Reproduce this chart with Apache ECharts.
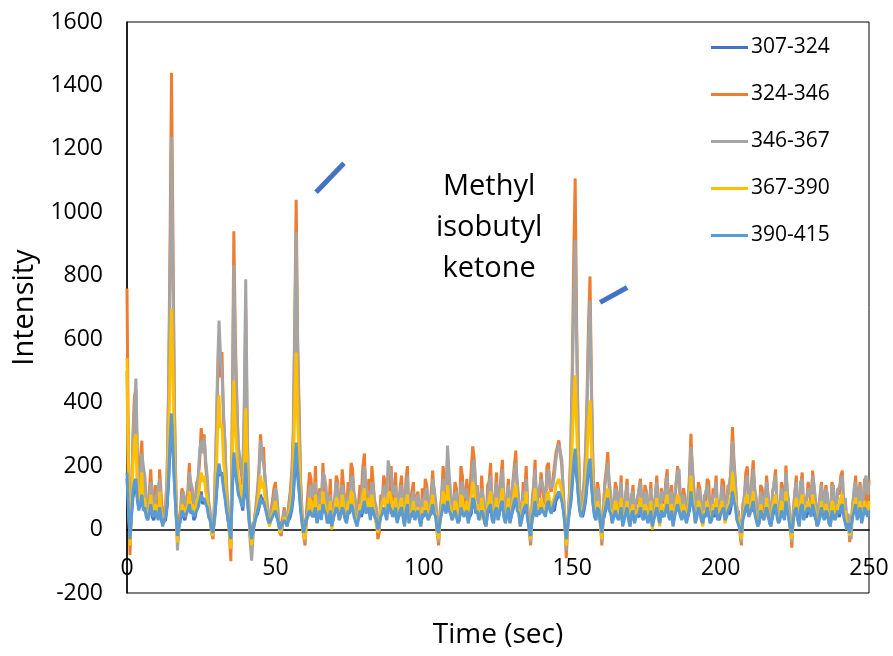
<!DOCTYPE html>
<html>
<head>
<meta charset="utf-8">
<title>Intensity vs time</title>
<script src="https://cdn.jsdelivr.net/npm/echarts@6/dist/echarts.min.js"></script>
<style>
    html, body { margin: 0; padding: 0; background: #fff; }
    #mychart { width: 893px; height: 656px; }
</style>
</head>
<body>
<div id="mychart"></div>
<script>
// wavelength bands (legend)
var bandNames = ['307-324', '324-346', '346-367', '367-390', '390-415'];
var bandColors = ['#4472C4', '#ED7D31', '#A5A5A5', '#FFC000', '#5B9BD5'];

// one sample every 0.5 s, 0..250 s (20 samples per row = 10 s)
var sampleStep = 0.5;
var band307 = [
    160, 70, -20, 50, 100, 130, 140, 100, 70, 90, 120, 70, 60, 50, 40, 60, 90, 40, 30, 50,
    60, 40, 80, 30, 20, 20, 30, 70, 150, 260, 340, 250, 150, 60, -10, 20, 40, 50, 50, 30,
    50, 70, 90, 60, 70, 30, 40, 70, 80, 100, 120, 80, 90, 90, 80, 50, 40, 10, 0, 30,
    90, 160, 190, 170, 180, 140, 110, 70, 30, 10, -20, 130, 220, 180, 160, 120, 110, 90, 60, 110,
    190, 100, 50, 10, -20, 10, 30, 40, 50, 70, 110, 90, 100, 80, 60, 40, 30, 50, 70, 60,
    50, 50, 30, 10, 10, 30, 40, 30, 20, 30, 40, 60, 100, 180, 250, 170, 120, 70, 30, 0,
    0, 40, 40, 50, 70, 50, 40, 60, 30, 50, 50, 40, 90, 70, 60, 30, 20, 50, 20, 30,
    60, 60, 60, 40, 40, 60, 50, 40, 30, 50, 60, 70, 70, 50, 50, 20, 20, 50, 40, 60,
    80, 60, 60, 60, 40, 60, 50, 50, 40, 10, 10, 50, 60, 60, 60, 40, 90, 80, 50, 50,
    60, 60, 30, 30, 50, 60, 50, 20, 50, 70, 30, 50, 40, 50, 40, 60, 50, 40, 20, 40,
    50, 50, 50, 40, 40, 50, 70, 60, 50, 10, 0, 40, 40, 70, 80, 60, 80, 70, 60, 40,
    40, 50, 50, 30, 40, 60, 60, 50, 60, 50, 30, 40, 50, 90, 80, 60, 70, 40, 40, 50,
    40, 30, 20, 50, 60, 70, 40, 30, 50, 60, 40, 40, 70, 80, 50, 30, 40, 60, 30, 30,
    60, 80, 90, 70, 60, 20, 40, 50, 50, 70, 40, 10, -10, 30, 50, 80, 50, 50, 50, 60,
    60, 60, 50, 70, 80, 70, 60, 60, 60, 90, 100, 110, 110, 100, 70, 30, -20, 20, 60, 80,
    140, 200, 235, 170, 120, 70, 50, 40, 60, 90, 140, 190, 210, 140, 90, 50, 40, 60, 50, 30,
    0, 30, 50, 70, 90, 70, 60, 30, 30, 50, 50, 40, 50, 60, 20, 40, 40, 60, 40, 20,
    40, 50, 30, 50, 50, 40, 60, 50, 40, 50, 50, 30, 50, 50, 20, 40, 40, 60, 50, 30,
    50, 40, 50, 50, 70, 50, 40, 50, 20, 50, 50, 70, 70, 50, 40, 50, 40, 30, 30, 60,
    110, 90, 70, 30, 50, 60, 50, 40, 30, 40, 40, 60, 60, 30, 40, 50, 40, 60, 40, 30,
    50, 50, 60, 40, 50, 50, 50, 70, 110, 100, 80, 40, 40, 10, 0, 40, 40, 60, 70, 50,
    50, 60, 80, 60, 60, 20, 30, 50, 50, 40, 40, 60, 40, 30, 20, 40, 60, 70, 50, 30,
    40, 50, 50, 40, 80, 70, 40, 10, 0, 40, 50, 60, 40, 20, 60, 70, 40, 40, 40, 60,
    50, 50, 70, 50, 50, 20, 30, 40, 60, 50, 40, 50, 50, 30, 20, 50, 50, 40, 40, 50,
    40, 60, 70, 50, 50, 10, 30, 0, 0, 50, 50, 70, 40, 40, 60, 30, 50, 60, 50, 50,
    50
];
var band324 = [
    760, 200, -80, 80, 300, 420, 440, 150, 100, 220, 280, 120, 150, 60, 40, 120, 190, 90, 60, 140,
    100, 40, 190, 110, 20, 60, 80, 150, 450, 900, 1440, 900, 380, 120, -40, 30, 60, 130, 110, 50,
    50, 120, 210, 90, 110, 60, 90, 150, 160, 220, 320, 260, 300, 200, 150, 60, 40, -10, -30, 80,
    250, 450, 620, 480, 560, 350, 280, 120, 60, -20, -100, 400, 940, 600, 420, 250, 250, 180, 140, 300,
    700, 300, 90, -20, -60, 0, 30, 80, 130, 200, 300, 220, 260, 150, 90, 40, 20, 60, 90, 130,
    150, 80, 30, -10, -20, 40, 70, 30, 20, 80, 120, 180, 300, 650, 1040, 600, 380, 150, 40, -20,
    -50, 60, 60, 180, 160, 70, 90, 200, 30, 100, 130, 60, 210, 120, 120, 40, 60, 160, 10, 80,
    90, 170, 150, 40, 70, 190, 130, 60, 40, 150, 100, 210, 190, 80, 80, 20, 20, 140, 120, 200,
    240, 90, 110, 160, 50, 200, 140, 70, 60, -30, -10, 110, 90, 170, 150, 50, 60, 120, 200, 90,
    100, 180, 40, 60, 130, 170, 70, 20, 160, 200, 30, 90, 90, 150, 50, 100, 120, 40, 20, 130,
    70, 160, 140, 50, 60, 120, 186, 100, 80, -10, -50, 60, 100, 200, 150, 90, 230, 130, 110, 40,
    60, 150, 130, 30, 40, 200, 170, 80, 90, 160, 30, 120, 120, 262, 220, 90, 140, 60, 50, 170,
    90, 30, 20, 140, 150, 210, 70, 30, 110, 180, 40, 100, 170, 220, 60, 30, 100, 160, 30, 90,
    150, 200, 249, 110, 90, 20, 40, 150, 120, 200, 70, 0, -50, 90, 140, 220, 60, 130, 100, 180,
    180, 90, 80, 200, 210, 130, 120, 160, 160, 240, 240, 281, 281, 200, 120, 30, -90, 20, 100, 250,
    500, 850, 1107, 650, 300, 120, 60, 100, 150, 250, 420, 650, 798, 450, 200, 80, 50, 150, 120, 20,
    -50, 60, 150, 190, 244, 120, 100, 30, 40, 150, 130, 60, 80, 170, 20, 60, 110, 160, 60, 10,
    100, 140, 30, 80, 90, 130, 160, 70, 50, 140, 120, 30, 70, 150, 10, 80, 100, 170, 60, 20,
    130, 100, 80, 150, 190, 60, 60, 140, 20, 90, 140, 200, 170, 60, 60, 130, 100, 30, 40, 170,
    302, 180, 120, 40, 60, 150, 130, 50, 20, 110, 90, 160, 150, 40, 60, 130, 110, 170, 40, 90,
    80, 160, 150, 40, 70, 140, 110, 200, 323, 220, 150, 50, 60, -10, -50, 80, 100, 180, 199, 60,
    80, 160, 218, 110, 90, 20, 40, 140, 130, 50, 60, 170, 100, 40, 20, 120, 140, 190, 80, 30,
    60, 150, 120, 60, 202, 110, 70, 10, -57, 60, 110, 170, 60, 20, 140, 180, 50, 100, 90, 150,
    120, 80, 186, 130, 80, 20, 30, 110, 150, 60, 60, 140, 100, 30, 20, 150, 130, 50, 70, 130,
    110, 170, 186, 60, 90, 10, 40, -40, -40, 80, 120, 170, 60, 110, 150, 40, 80, 160, 100, 60,
    158
];
var band346 = [
    500, 150, -40, 100, 260, 380, 476, 250, 120, 80, 240, 200, 170, 90, 60, 80, 150, 120, 50, 90,
    110, 130, 160, 60, 40, 50, 60, 180, 400, 800, 1238, 800, 350, 100, -66, 0, 40, 100, 120, 90,
    70, 90, 180, 150, 130, 80, 100, 120, 170, 250, 280, 240, 290, 220, 170, 90, 60, 0, -20, 100,
    280, 500, 659, 550, 500, 380, 260, 150, 80, 0, -60, 350, 833, 550, 380, 260, 230, 200, 160, 400,
    789, 350, 60, -40, -98, -20, 40, 70, 110, 180, 280, 240, 240, 170, 110, 60, 40, 50, 70, 100,
    130, 110, 50, 0, -10, 20, 60, 50, 40, 60, 100, 150, 260, 600, 937, 550, 340, 150, 50, 0,
    -40, 40, 70, 130, 140, 110, 100, 150, 40, 60, 120, 90, 180, 170, 140, 80, 70, 110, 20, 60,
    100, 150, 130, 70, 80, 140, 120, 90, 50, 100, 110, 160, 170, 120, 90, 40, 30, 80, 110, 150,
    200, 140, 120, 110, 60, 150, 130, 90, 70, 20, 0, 70, 100, 130, 140, 90, 218, 190, 180, 120,
    110, 140, 50, 80, 120, 140, 80, 40, 140, 170, 40, 70, 100, 120, 60, 90, 110, 70, 30, 100,
    80, 120, 130, 90, 70, 100, 160, 130, 90, 20, -40, 40, 110, 160, 160, 120, 265, 180, 120, 70,
    70, 110, 120, 60, 50, 140, 150, 110, 100, 130, 40, 80, 110, 200, 220, 140, 130, 80, 60, 130,
    100, 60, 30, 100, 140, 170, 80, 50, 100, 150, 50, 80, 150, 190, 70, 50, 110, 140, 40, 70,
    140, 180, 210, 150, 100, 40, 50, 120, 110, 160, 80, 20, -40, 60, 130, 190, 70, 110, 110, 160,
    160, 120, 90, 170, 190, 150, 130, 140, 170, 220, 250, 270, 270, 220, 110, 40, -66, 10, 90, 220,
    450, 700, 912, 600, 280, 130, 70, 90, 140, 220, 380, 600, 722, 420, 180, 90, 60, 130, 110, 40,
    -40, 50, 140, 170, 210, 150, 110, 60, 50, 130, 120, 80, 90, 150, 50, 60, 100, 140, 70, 30,
    110, 120, 40, 90, 100, 120, 150, 90, 60, 120, 110, 50, 80, 130, 20, 60, 110, 150, 70, 40,
    120, 110, 90, 130, 170, 90, 70, 120, 30, 80, 150, 180, 190, 90, 70, 110, 110, 50, 50, 150,
    260, 200, 130, 60, 70, 130, 120, 70, 30, 100, 100, 140, 140, 60, 70, 110, 100, 150, 50, 80,
    90, 140, 140, 60, 80, 120, 120, 180, 280, 200, 140, 70, 70, 10, -40, 60, 110, 150, 170, 80,
    90, 150, 190, 130, 100, 40, 50, 120, 120, 70, 70, 150, 110, 60, 30, 110, 150, 170, 90, 50,
    70, 130, 130, 80, 180, 120, 80, 30, -40, 50, 120, 150, 70, 40, 150, 160, 60, 90, 100, 130,
    130, 100, 170, 140, 90, 40, 40, 100, 140, 80, 70, 130, 110, 50, 30, 130, 140, 70, 80, 120,
    120, 150, 170, 80, 100, 30, 50, -20, -30, 70, 130, 150, 70, 100, 140, 60, 90, 150, 170, 110,
    150
];
var band367 = [
    540, 120, -50, 60, 200, 280, 300, 130, 70, 120, 180, 90, 100, 40, 30, 60, 110, 60, 40, 80,
    70, 30, 120, 60, 10, 30, 50, 100, 260, 500, 697, 480, 220, 60, -40, 10, 30, 80, 70, 40,
    40, 80, 120, 60, 80, 50, 60, 90, 100, 140, 180, 150, 170, 120, 100, 40, 30, -10, -20, 50,
    150, 300, 423, 320, 330, 220, 170, 80, 40, -10, -60, 240, 470, 320, 240, 160, 150, 110, 90, 180,
    382, 180, 50, -10, -50, 0, 20, 50, 80, 120, 170, 130, 150, 100, 60, 30, 10, 30, 50, 70,
    90, 50, 20, -10, -10, 20, 40, 20, 10, 50, 70, 100, 170, 380, 558, 350, 220, 90, 20, -20,
    -30, 30, 40, 100, 90, 50, 60, 110, 20, 50, 80, 40, 120, 80, 70, 20, 40, 90, 0, 40,
    60, 100, 90, 30, 40, 110, 80, 40, 30, 90, 60, 120, 110, 50, 50, 10, 10, 80, 70, 110,
    130, 60, 70, 100, 30, 110, 80, 40, 40, -10, -10, 60, 60, 100, 90, 30, 110, 120, 100, 60,
    60, 100, 30, 40, 80, 100, 40, 10, 90, 110, 20, 50, 60, 90, 30, 60, 70, 30, 10, 70,
    40, 90, 80, 30, 40, 80, 110, 60, 50, -10, -30, 30, 60, 120, 90, 60, 140, 80, 70, 30,
    40, 90, 80, 20, 30, 110, 100, 50, 60, 90, 20, 70, 70, 150, 130, 60, 80, 40, 30, 100,
    60, 20, 10, 80, 90, 120, 40, 20, 70, 100, 30, 60, 100, 130, 40, 20, 60, 100, 20, 50,
    90, 120, 140, 70, 60, 10, 30, 90, 70, 120, 40, 0, -30, 50, 80, 130, 40, 80, 60, 100,
    100, 60, 50, 110, 120, 80, 70, 90, 100, 140, 150, 160, 160, 120, 70, 20, -50, 10, 60, 140,
    270, 400, 486, 320, 170, 70, 40, 60, 90, 140, 230, 350, 407, 250, 110, 50, 30, 90, 70, 10,
    -30, 40, 80, 110, 130, 70, 60, 20, 20, 90, 80, 40, 50, 100, 10, 40, 60, 90, 40, 10,
    60, 80, 20, 50, 50, 70, 100, 50, 30, 80, 70, 20, 40, 90, 0, 40, 60, 100, 40, 10,
    80, 60, 50, 90, 110, 40, 40, 80, 10, 50, 80, 110, 100, 40, 40, 80, 60, 20, 20, 100,
    170, 110, 70, 20, 40, 90, 80, 30, 10, 60, 50, 90, 90, 20, 40, 80, 60, 100, 30, 50,
    50, 90, 90, 20, 40, 80, 70, 110, 180, 130, 90, 30, 40, 0, -30, 40, 60, 100, 110, 40,
    50, 90, 120, 60, 60, 10, 20, 80, 80, 30, 40, 100, 60, 20, 10, 70, 90, 110, 50, 20,
    40, 90, 70, 40, 120, 70, 40, 0, -30, 30, 70, 100, 40, 10, 90, 110, 30, 60, 60, 90,
    70, 50, 110, 80, 50, 10, 20, 60, 90, 40, 40, 80, 60, 20, 10, 90, 80, 30, 40, 80,
    70, 100, 110, 40, 60, 0, 20, -20, -20, 50, 80, 100, 40, 60, 90, 20, 50, 90, 70, 40,
    90
];
var band390 = [
    180, 60, -30, 40, 120, 150, 160, 90, 60, 80, 110, 60, 70, 40, 30, 50, 80, 50, 40, 60,
    50, 30, 70, 40, 10, 30, 40, 80, 160, 280, 366, 260, 140, 50, -20, 10, 30, 60, 60, 40,
    40, 60, 80, 50, 60, 40, 50, 60, 70, 90, 110, 90, 100, 80, 70, 40, 30, 0, -10, 40,
    100, 170, 208, 180, 170, 130, 100, 60, 40, 0, -30, 140, 243, 190, 150, 110, 100, 80, 70, 120,
    211, 110, 40, 0, -30, 0, 20, 40, 60, 80, 100, 80, 90, 70, 50, 30, 20, 30, 40, 50,
    60, 40, 20, 0, 0, 20, 30, 20, 10, 40, 50, 70, 110, 200, 274, 190, 130, 60, 20, -10,
    -10, 30, 30, 60, 60, 40, 50, 70, 20, 40, 60, 30, 80, 60, 50, 20, 30, 60, 10, 40,
    50, 70, 60, 30, 30, 70, 60, 30, 20, 60, 50, 80, 70, 40, 40, 10, 10, 60, 50, 70,
    90, 50, 50, 70, 30, 70, 60, 40, 30, 0, 0, 40, 50, 70, 70, 30, 80, 70, 60, 40,
    50, 70, 20, 40, 60, 70, 40, 10, 60, 80, 20, 40, 50, 60, 30, 50, 60, 30, 10, 50,
    40, 60, 60, 30, 30, 60, 80, 50, 40, 0, -10, 30, 50, 80, 70, 50, 90, 60, 50, 30,
    30, 60, 60, 20, 30, 70, 70, 40, 50, 60, 20, 50, 60, 100, 90, 50, 60, 30, 30, 60,
    50, 20, 10, 60, 70, 80, 30, 20, 60, 70, 30, 50, 80, 90, 40, 20, 50, 70, 20, 40,
    70, 90, 100, 60, 50, 10, 30, 60, 60, 80, 30, 0, -20, 40, 60, 90, 40, 60, 50, 70,
    70, 50, 40, 80, 90, 60, 50, 70, 70, 100, 110, 120, 120, 90, 60, 20, -30, 10, 50, 90,
    150, 210, 255, 180, 110, 60, 40, 50, 70, 100, 150, 200, 224, 150, 80, 40, 30, 70, 60, 20,
    -10, 40, 60, 80, 100, 60, 50, 20, 20, 60, 60, 30, 40, 70, 10, 30, 50, 70, 30, 10,
    50, 60, 20, 40, 40, 50, 70, 40, 30, 60, 60, 20, 40, 60, 10, 30, 50, 70, 40, 20,
    60, 50, 40, 60, 80, 40, 30, 60, 10, 40, 60, 80, 80, 40, 30, 60, 50, 20, 20, 70,
    120, 80, 60, 20, 40, 70, 60, 30, 20, 50, 40, 70, 70, 20, 30, 60, 50, 70, 30, 40,
    40, 60, 70, 30, 40, 60, 60, 80, 120, 90, 70, 30, 30, 0, -10, 30, 50, 70, 80, 40,
    40, 70, 90, 50, 50, 10, 20, 60, 60, 30, 30, 70, 50, 20, 10, 50, 70, 80, 40, 20,
    30, 60, 60, 30, 90, 60, 30, 0, -10, 30, 60, 70, 30, 10, 70, 80, 30, 50, 50, 70,
    60, 40, 80, 60, 40, 10, 20, 50, 70, 40, 30, 60, 50, 20, 10, 60, 60, 30, 30, 60,
    50, 70, 80, 40, 40, 0, 20, -10, -10, 40, 60, 80, 30, 50, 70, 20, 40, 70, 60, 40,
    60
];
var bandValues = [band307, band324, band346, band367, band390];

// annotation: pointer strokes (data coords) and label
var pointerSegments = [
    [[63.7, 1063], [73.1, 1155]],
    [[159.4, 716], [168.5, 763]]
];
var noteText = 'Methyl\nisobutyl\nketone';
var noteAt = [122, 953];

var fontName = '"Open Sans", "Liberation Sans", sans-serif';

var mychart = echarts.init(document.getElementById('mychart'));

var series = bandNames.map(function (name, i) {
    var s = {
        name: name,
        type: 'line',
        symbol: 'none',
        showSymbol: false,
        animation: false,
        lineStyle: { color: bandColors[i], width: 3 },
        itemStyle: { color: bandColors[i] },
        data: bandValues[i].map(function (v, k) { return [k * sampleStep, v]; })
    };
    if (i === 0) {
        s.markLine = {
            silent: true,
            symbol: 'none',
            label: { show: false },
            lineStyle: { color: '#4472C4', width: 5, type: 'solid' },
            data: pointerSegments.map(function (seg) {
                return [{ coord: seg[0] }, { coord: seg[1] }];
            })
        };
    }
    return s;
});

var option = {
    backgroundColor: '#fff',
    animation: false,
    grid: {
        left: 127, right: 24, top: 22, bottom: 63,
        outerBoundsMode: 'none',
        containLabel: false,
        show: true, borderColor: '#000', borderWidth: 1
    },
    legend: {
        orient: 'vertical',
        left: 711, top: 37,
        padding: 0,
        icon: 'rect',
        itemWidth: 37, itemHeight: 3,
        itemGap: 26,
        textStyle: { fontFamily: fontName, fontSize: 21, color: '#000', padding: [0, 0, 0, -2] },
        data: bandNames
    },
    xAxis: {
        type: 'value',
        min: 0, max: 250, interval: 50,
        name: 'Time (sec)',
        nameLocation: 'middle',
        nameGap: 28,
        nameTextStyle: { fontFamily: fontName, fontSize: 28, color: '#000' },
        axisLine: { onZero: true, lineStyle: { color: '#000', width: 1.5 } },
        axisTick: { show: false },
        splitLine: { show: false },
        axisLabel: { fontFamily: fontName, fontSize: 23, color: '#000', margin: -36 }
    },
    yAxis: {
        type: 'value',
        min: -200, max: 1600, interval: 200,
        name: 'Intensity',
        nameLocation: 'middle',
        nameGap: 80,
        nameTextStyle: { fontFamily: fontName, fontSize: 29, color: '#000' },
        axisLine: { show: true, lineStyle: { color: '#000', width: 1.5 } },
        axisTick: { show: false },
        splitLine: { show: false },
        axisLabel: {
            fontFamily: fontName, fontSize: 23, color: '#000', margin: 24,
            formatter: function (v) { return String(v); }
        }
    },
    series: series
};
mychart.setOption(option);

var notePx = mychart.convertToPixel({ gridIndex: 0 }, noteAt);
mychart.setOption({
    graphic: [{
        type: 'text',
        x: notePx[0],
        y: notePx[1],
        silent: true,
        style: {
            text: noteText,
            fontFamily: fontName,
            fontSize: 29,
            lineHeight: 41,
            fill: '#000',
            align: 'center',
            verticalAlign: 'middle'
        }
    }]
});
</script>
</body>
</html>
